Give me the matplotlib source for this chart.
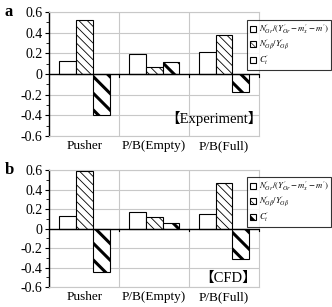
import matplotlib
matplotlib.use("Agg")
import matplotlib.pyplot as plt
import numpy as np
from matplotlib.ticker import MultipleLocator

categories = ["Pusher", "P/B(Empty)", "P/B(Full)"]
series_labels = [r"$N_{Gr}^{\prime}/(Y_{Gr}^{\prime}-m_x^{\prime}-m^{\prime})$",
                 r"$N_{G\beta}^{\prime}/Y_{G\beta}^{\prime}$", r"$C_t^{\prime}$"]
exp_vals = [
    [0.13, 0.19, 0.21],
    [0.52, 0.07, 0.38],
    [-0.40, 0.12, -0.17],
]
cfd_vals = [
    [0.13, 0.17, 0.15],
    [0.59, 0.12, 0.47],
    [-0.45, 0.06, -0.31],
]
yticks = [-0.6, -0.4, -0.2, 0, 0.2, 0.4, 0.6]
ytick_labels = ["-0.6", "-0.4", "-0.2", "0", "0.2", "0.4", "0.6"]

plt.rcParams['font.family'] = ['Liberation Serif', 'Noto Sans CJK JP']
plt.rcParams['mathtext.fontset'] = 'stix'

fig = plt.figure(figsize=(3.32, 3.07), dpi=100)
ax_a = fig.add_axes([0.149, 0.557, 0.631, 0.404])
ax_b = fig.add_axes([0.149, 0.065, 0.631, 0.381])

hatches = ['', '\\\\\\\\', '\\\\']
hlw = [0.6, 0.6, 2.2]
leg_hlw = [0.6, 0.45, 2.0]
width = 0.24
offsets = [-width, 0, width]

def set_hlw(p, lw):
    if hasattr(p, 'set_hatch_linewidth'):
        p.set_hatch_linewidth(lw)
    else:
        p._hatch_linewidth = lw

def draw(ax, vals, panel, tag, tagpos, legy):
    x = np.arange(len(categories))
    handles = []
    for i in range(3):
        plt.rcParams['hatch.linewidth'] = hlw[i]
        bars = ax.bar(x + offsets[i], vals[i], width, color='white', edgecolor='black',
                      linewidth=0.8, hatch=hatches[i], label=series_labels[i], zorder=3)
        for b in bars:
            set_hlw(b, hlw[i])
        handles.append(bars)
    ax.set_xlim(-0.5, 2.5)
    ax.set_ylim(-0.6, 0.6)
    ax.set_yticks(yticks)
    ax.set_yticklabels(ytick_labels, fontsize=10)
    ax.yaxis.set_minor_locator(MultipleLocator(0.1))
    ax.tick_params(axis='y', which='major', length=3, width=0.8, direction='out', pad=2)
    ax.tick_params(axis='y', which='minor', length=2, width=0.6, direction='out')
    ax.set_xticks(x)
    ax.set_xticklabels(categories, fontsize=9.5)
    ax.tick_params(axis='x', length=0, pad=3)
    for yv in yticks:
        if yv != 0:
            ax.axhline(yv, color='#c8c8c8', linewidth=0.8, zorder=0)
    for xv in [0.5, 1.5]:
        ax.axvline(xv, color='#c8c8c8', linewidth=0.8, zorder=0)
    ax.axhline(0, color='black', linewidth=1.0, zorder=4)
    for xv in [0.5, 1.5, 2.5]:
        ax.plot([xv, xv], [0, -0.025], color='black', linewidth=0.8, zorder=4, clip_on=False)
    for s in ['top', 'right', 'bottom']:
        ax.spines[s].set_color('#c8c8c8')
        ax.spines[s].set_linewidth(0.8)
    ax.spines['left'].set_color('black')
    ax.spines['left'].set_linewidth(1.0)
    ax.text(-0.215, 1.0, panel, transform=ax.transAxes, fontsize=12, fontweight='bold',
            va='center', ha='left')
    ax.text(tagpos[0], tagpos[1], tag, transform=ax.transAxes, fontsize=10.5,
            ha='center', va='center')
    plt.rcParams['hatch.linewidth'] = 0.8
    leg = ax.legend(handles=handles, loc='upper left', bbox_to_anchor=(0.943, legy),
                    fontsize=6.2, frameon=True, fancybox=False, edgecolor='black',
                    handlelength=0.7, handleheight=0.7, handletextpad=0.4,
                    borderpad=0.3, labelspacing=0.15, borderaxespad=0)
    for h, lw in zip(leg.legend_handles, leg_hlw):
        set_hlw(h, lw)
    leg.get_frame().set_linewidth(0.8)
    leg.set_zorder(10)

draw(ax_a, exp_vals, 'a', '【Experiment】', (0.785, 0.145), 0.935)
draw(ax_b, cfd_vals, 'b', '【CFD】', (0.852, 0.077), 0.94)

fig.savefig('out.png', dpi=100)
